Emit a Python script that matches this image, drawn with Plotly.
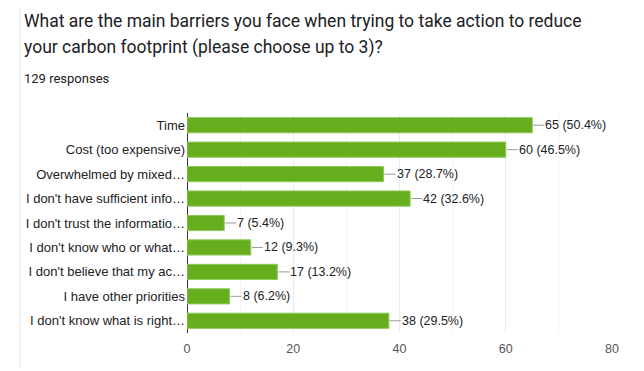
import plotly.graph_objects as go

categories = [
    "Time",
    "Cost (too expensive)",
    "Overwhelmed by mixed…",
    "I don't have sufficient info…",
    "I don't trust the informatio…",
    "I don't know who or what…",
    "I don't believe that my ac…",
    "I have other priorities",
    "I don't know what is right…",
]
counts = [65, 60, 37, 42, 7, 12, 17, 8, 38]
percents = [50.4, 46.5, 28.7, 32.6, 5.4, 9.3, 13.2, 6.2, 29.5]
x_ticks = [0, 20, 40, 60, 80]

OFF = 8  # default body margin of the html page
W, H = 644 - OFF, 371 - OFF
L, R, T, B = 187 - OFF, 32, 113 - OFF, 37.5
PW, PH = W - L - R, H - T - B

def px(x):
    return (x - OFF - L) / PW

def py(y):
    return (H - B - (y - OFF)) / PH

green = "#67ae1e"

fig = go.Figure()
fig.add_trace(go.Bar(
    y=categories, x=counts, orientation="h",
    marker=dict(color=green, line=dict(color="#8cc95a", width=1)),
    width=0.62, hoverinfo="skip",
))

shapes = []
annotations = []
for c, v, p in zip(categories, counts, percents):
    shapes.append(dict(type="line", xref="x", yref="y", xsizemode="pixel",
                       xanchor=v, x0=1, x1=12, y0=c, y1=c,
                       line=dict(color="#999999", width=1)))
    annotations.append(dict(x=v, y=c, xref="x", yref="y", text=f"{v} ({p}%)",
                            showarrow=False, xanchor="left", xshift=11,
                            font=dict(family="Liberation Sans, Arial", size=12.5, color="#222222")))

annotations += [
    dict(xref="paper", yref="paper", x=px(22), y=py(21), xanchor="left", yanchor="middle",
         text="What are the main barriers you face when trying to take action to reduce",
         showarrow=False, font=dict(family="Roboto", size=17.5, color="#202124")),
    dict(xref="paper", yref="paper", x=px(22), y=py(47), xanchor="left", yanchor="middle",
         text="your carbon footprint (please choose up to 3)?",
         showarrow=False, font=dict(family="Roboto", size=17.5, color="#202124")),
    dict(xref="paper", yref="paper", x=px(22), y=py(78), xanchor="left", yanchor="middle",
         text="129 responses",
         showarrow=False, font=dict(family="Roboto", size=13, color="#202124")),
]

shapes.append(dict(type="line", xref="paper", yref="paper",
                   x0=px(20), x1=px(20), y0=py(6), y1=py(368),
                   line=dict(color="#e3e3e3", width=1)))

fig.update_layout(
    width=W, height=H,
    margin=dict(l=L, r=R, t=T, b=B),
    paper_bgcolor="white", plot_bgcolor="white",
    showlegend=False,
    shapes=shapes, annotations=annotations,
    xaxis=dict(range=[0, 80], tickvals=x_ticks, ticktext=[str(t) for t in x_ticks],
               showgrid=True, gridcolor="#ebebeb", gridwidth=1,
               minor=dict(dtick=10, showgrid=True, gridcolor="#f3f3f3"),
               zeroline=True, zerolinecolor="#333333", zerolinewidth=1,
               showline=False, ticks="", ticklabelstandoff=6,
               tickfont=dict(family="Liberation Sans, Arial", size=12.5, color="#555555")),
    yaxis=dict(autorange="reversed", showgrid=False, showline=False, ticks="",
               ticklabelstandoff=1,
               tickfont=dict(family="Liberation Sans, Arial", size=13, color="#222222")),
)

fig.write_html("out.html")
